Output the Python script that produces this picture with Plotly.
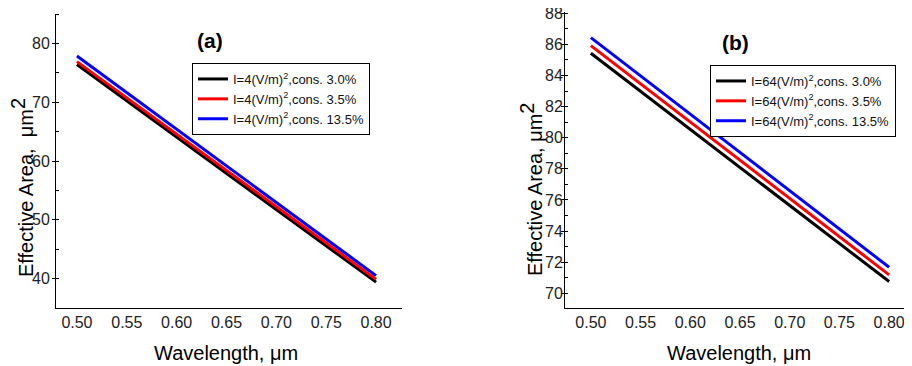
import plotly.graph_objects as go

wavelength = [0.50, 0.65, 0.80]

# panel (a): I = 4 (V/m)^2
a_cons30 = [76.4, 57.9, 39.4]
a_cons35 = [76.9, 58.4, 39.9]
a_cons135 = [77.85, 59.2, 40.5]

# panel (b): I = 64 (V/m)^2
b_cons30 = [85.43, 78.08, 70.75]
b_cons35 = [85.92, 78.55, 71.18]
b_cons135 = [86.43, 79.05, 71.67]

labels_a = ["I=4(V/m)<sup>2</sup>,cons. 3.0%", "I=4(V/m)<sup>2</sup>,cons. 3.5%",
            "I=4(V/m)<sup>2</sup>,cons. 13.5%"]
labels_b = ["I=64(V/m)<sup>2</sup>,cons. 3.0%", "I=64(V/m)<sup>2</sup>,cons. 3.5%",
            "I=64(V/m)<sup>2</sup>,cons. 13.5%"]
colors = ["#000000", "#ff0000", "#0000ff"]

FONT = "Liberation Sans, Arial, sans-serif"
OFF = 8  # page body margin
W, H = 912 - OFF, 366 - OFF

fig = go.Figure()
for ys, lab, c in zip([a_cons30, a_cons35, a_cons135], labels_a, colors):
    fig.add_trace(go.Scatter(x=wavelength, y=ys, mode="lines", name=lab,
                             line=dict(color=c, width=3), xaxis="x", yaxis="y",
                             legend="legend"))
for ys, lab, c in zip([b_cons30, b_cons35, b_cons135], labels_b, colors):
    fig.add_trace(go.Scatter(x=wavelength, y=ys, mode="lines", name=lab,
                             line=dict(color=c, width=3), xaxis="x2", yaxis="y2",
                             legend="legend2"))

def px_x(p):
    return min(1.0, (p - OFF) / W)

def px_y(p):
    return 1 - (p - OFF) / H

axis_common = dict(showline=True, linecolor="black", linewidth=1, showgrid=False,
                   zeroline=False, mirror=False, automargin=False,
                   ticklabeloverflow="allow",
                   tickfont=dict(family=FONT, size=16, color="#222"))

fig.update_layout(
    width=W, height=H,
    margin=dict(l=0, r=0, t=0, b=0, autoexpand=False),
    paper_bgcolor="white", plot_bgcolor="white",
    font=dict(family=FONT, color="black"),
    xaxis=dict(domain=[px_x(56), px_x(402)], range=[0.479, 0.826],
               tickvals=[0.50, 0.55, 0.60, 0.65, 0.70, 0.75, 0.80],
               ticktext=["0.50", "0.55", "0.60", "0.65", "0.70", "0.75", "0.80"],
               ticks="", anchor="y", **axis_common),
    yaxis=dict(domain=[px_y(308), px_y(14)], range=[35, 85],
               tickvals=[40, 50, 60, 70, 80], ticks="outside", ticklen=3,
               tickcolor="black", ticklabelstandoff=-1,
               minor=dict(dtick=5, ticks="inside", ticklen=3, tickcolor="black"),
               anchor="x", **axis_common),
    xaxis2=dict(domain=[px_x(565), px_x(911)], range=[0.474, 0.822],
                tickvals=[0.50, 0.55, 0.60, 0.65, 0.70, 0.75, 0.80],
                ticktext=["0.50", "0.55", "0.60", "0.65", "0.70", "0.75", "0.80"],
                ticks="", anchor="y2", **axis_common),
    yaxis2=dict(domain=[px_y(308), px_y(12)], range=[69.05, 88.08],
                tickvals=[70, 72, 74, 76, 78, 80, 82, 84, 86, 88], ticks="outside",
                ticklen=3, tickcolor="black", ticklabelstandoff=-5,
                minor=dict(dtick=1, ticks="inside", ticklen=3, tickcolor="black"),
                anchor="x2", **axis_common),
    legend=dict(x=px_x(192), y=px_y(63), xanchor="left", yanchor="top",
                bordercolor="black", borderwidth=1, bgcolor="white",
                font=dict(family=FONT, size=13, color="#111"),
                tracegroupgap=0, itemwidth=30),
    legend2=dict(x=px_x(710), y=px_y(65), xanchor="left", yanchor="top",
                 bordercolor="black", borderwidth=1, bgcolor="white",
                 font=dict(family=FONT, size=13, color="#111"),
                 tracegroupgap=0, itemwidth=30),
    showlegend=True,
)

ann = [
    dict(text="<b>(a)</b>", x=px_x(210), y=px_y(40), font=dict(size=21)),
    dict(text="<b>(b)</b>", x=px_x(735), y=px_y(43), font=dict(size=21)),
    dict(text="Wavelength, μm", x=px_x(226), y=px_y(353), font=dict(size=20)),
    dict(text="Wavelength, μm", x=px_x(739), y=px_y(353), font=dict(size=20)),
    dict(text="Effective Area,  μm<sup><span style='font-size:20px'>2</span></sup>",
         x=px_x(22), y=px_y(188), textangle=-90, font=dict(size=20)),
    dict(text="Effective Area, μm<sup><span style='font-size:20px'>2</span></sup>",
         x=px_x(531), y=px_y(190), textangle=-90, font=dict(size=20)),
]
for a in ann:
    a.update(xref="paper", yref="paper", showarrow=False, xanchor="center",
             yanchor="middle")
    a["font"].update(family=FONT, color="black")
    fig.add_annotation(**a)

fig.write_html("out.html")
